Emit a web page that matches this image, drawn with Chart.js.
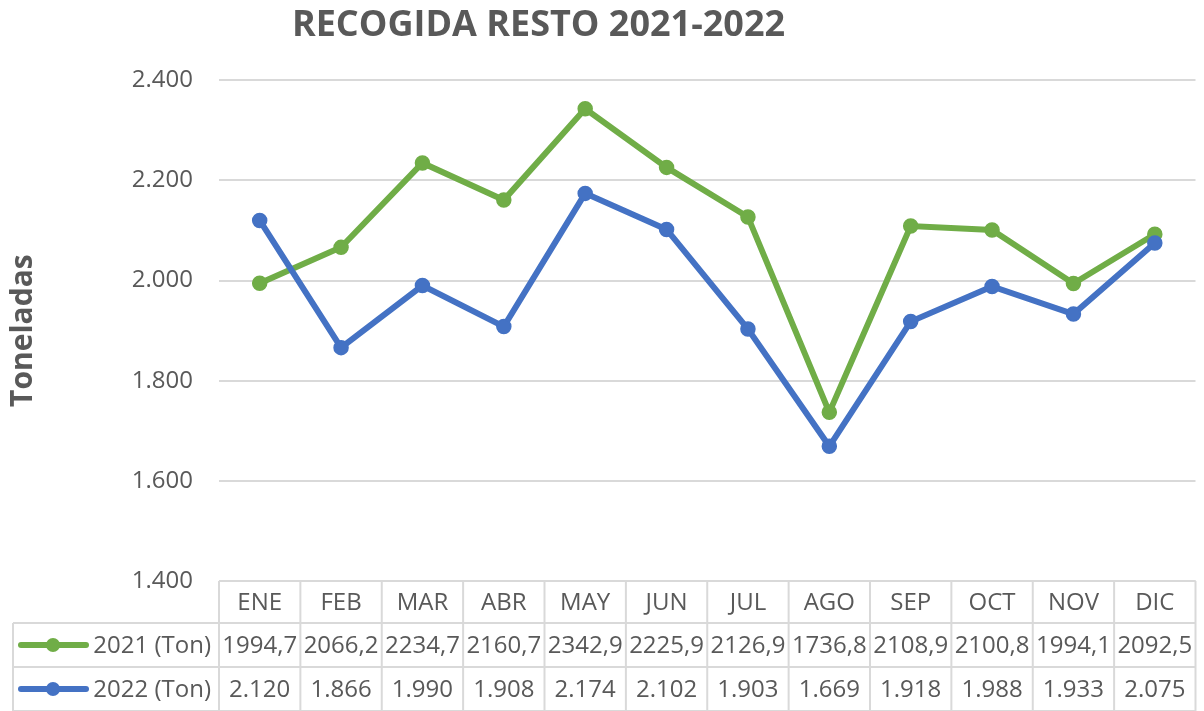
<!DOCTYPE html>
<html><head><meta charset="utf-8">
<script src="https://cdn.jsdelivr.net/npm/chart.js@4"></script>
<style>html,body{margin:0;padding:0;background:#fff}</style>
</head><body>
<canvas id="c" width="1204" height="711" style="display:block;width:1204px;height:711px"></canvas>
<script>
const months = ['ENE','FEB','MAR','ABR','MAY','JUN','JUL','AGO','SEP','OCT','NOV','DIC'];
const series2021 = [1994.7,2066.2,2234.7,2160.7,2342.9,2225.9,2126.9,1736.8,2108.9,2100.8,1994.1,2092.5];
const series2022 = [2120,1866,1990,1908,2174,2102,1903,1669,1918,1988,1933,2075];
const seriesLabels = ['2021 (Ton)','2022 (Ton)'];
const yTickValues = [1400,1600,1800,2000,2200,2400];
const titleText = 'RECOGIDA RESTO 2021-2022';
const yTitleText = 'Toneladas';

const GREEN = '#70AD47', BLUE = '#4472C4', TEXT = '#595959', GRID = '#D9D9D9';
const FONT = "'Open Sans', sans-serif";

function fmtThousands(v){
  const s = Math.round(v).toString();
  return s.length > 3 ? s.slice(0, s.length-3) + '.' + s.slice(-3) : s;
}
function fmtDecimalComma(v){ return v.toFixed(1).replace('.', ','); }

const titleShift = {
  id: 'titleShift',
  afterLayout(chart){
    const t = chart.titleBlock;
    if (t) { t.left = 0; t.right = 1077; }
  }
};

const dataTable = {
  id: 'dataTable',
  afterDraw(chart){
    const ctx = chart.ctx, xs = chart.scales.x, area = chart.chartArea;
    const n = months.length;
    const colW = (xs.right - xs.left) / n;
    const top = area.bottom, r1 = top + 42, r2 = r1 + 44, bot = r2 + 44;
    const legLeft = 13;
    ctx.save();
    ctx.strokeStyle = GRID; ctx.lineWidth = 2;
    const ln = (x1,y1,x2,y2)=>{ctx.beginPath();ctx.moveTo(x1,y1);ctx.lineTo(x2,y2);ctx.stroke();};
    ln(xs.left, top, xs.right, top);
    ln(legLeft, r1, xs.right, r1);
    ln(legLeft, r2, xs.right, r2);
    ln(legLeft, bot, xs.right, bot);
    ln(legLeft, r1, legLeft, bot);
    for (let k = 0; k <= n; k++) {
      const x = xs.left + k*colW;
      ln(x, top, x, bot);
    }
    ctx.fillStyle = TEXT;
    ctx.font = "24px " + FONT;
    ctx.textAlign = 'center'; ctx.textBaseline = 'middle';
    const rows = [
      {label: seriesLabels[0], color: GREEN, vals: series2021.map(fmtDecimalComma)},
      {label: seriesLabels[1], color: BLUE, vals: series2022.map(fmtThousands)}
    ];
    months.forEach((m,i)=>{
      ctx.fillText(m, xs.getPixelForValue(i), (top+r1)/2 + 1);
    });
    rows.forEach((row, ri)=>{
      const yc = ri === 0 ? (r1+r2)/2 : (r2+bot)/2;
      ctx.fillStyle = TEXT;
      ctx.textAlign = 'center';
      row.vals.forEach((v,i)=>{
        ctx.fillText(v, xs.getPixelForValue(i), yc + 1);
      });
      ctx.textAlign = 'right';
      ctx.fillText(row.label, xs.left - 8, yc + 1);
      // legend key
      ctx.strokeStyle = row.color; ctx.lineWidth = 6; ctx.lineCap = 'round';
      ln(21, yc, 86, yc);
      ctx.fillStyle = row.color;
      ctx.beginPath(); ctx.arc(53, yc, 7, 0, Math.PI*2); ctx.fill();
      ctx.strokeStyle = GRID; ctx.lineWidth = 2; ctx.lineCap = 'butt';
    });
    ctx.restore();
  }
};

new Chart(document.getElementById('c'), {
  type: 'line',
  data: {
    labels: months,
    datasets: [
      {label: seriesLabels[0], data: series2021, borderColor: GREEN, backgroundColor: GREEN,
       pointBackgroundColor: GREEN, pointBorderColor: GREEN, borderWidth: 6, pointRadius: 7,
       pointBorderWidth: 1.5, tension: 0, order: 2},
      {label: seriesLabels[1], data: series2022, borderColor: BLUE, backgroundColor: BLUE,
       pointBackgroundColor: BLUE, pointBorderColor: BLUE, borderWidth: 6, pointRadius: 7,
       pointBorderWidth: 1.5, tension: 0, order: 1}
    ]
  },
  options: {
    responsive: false,
    animation: false,
    devicePixelRatio: 1,
    layout: {padding: {left: 0, right: 0, top: 0, bottom: 130}},
    plugins: {
      legend: {display: false},
      tooltip: {enabled: false},
      title: {display: true, text: titleText, color: TEXT,
        font: {family: FONT, size: 36, weight: 'bold', lineHeight: 1.2},
        padding: {top: 4, bottom: 33}}
    },
    scales: {
      x: {type: 'category', offset: true, display: false},
      y: {
        min: 1400, max: 2400,
        afterFit(scale){ scale.width = 219; },
        afterBuildTicks(scale){ scale.ticks = yTickValues.map(v=>({value: v})); },
        border: {display: false},
        grid: {color: GRID, lineWidth: 2, drawTicks: false},
        ticks: {padding: 26, color: TEXT, font: {family: FONT, size: 24},
          callback: (v)=>fmtThousands(v)},
        title: {display: true, text: yTitleText, color: TEXT,
          font: {family: FONT, size: 30, weight: 'bold', lineHeight: 1.2},
          padding: {top: 5, bottom: 0}}
      }
    }
  },
  plugins: [titleShift, dataTable]
});
</script>
</body></html>
